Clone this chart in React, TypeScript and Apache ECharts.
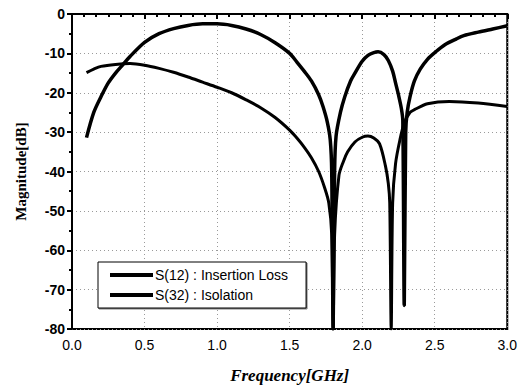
import React, { useEffect, useRef } from "react";
import * as echarts from "echarts";

const xTicks = [0, 0.5, 1.0, 1.5, 2.0, 2.5, 3.0];

const s12Freq = [
  0.1, 0.15, 0.2, 0.25, 0.3, 0.35, 0.4, 0.5, 0.6, 0.7, 0.8, 0.9, 1.0, 1.1, 1.2, 1.3, 1.4,
  1.5, 1.55, 1.6, 1.65, 1.7, 1.73, 1.76, 1.78, 1.79, 1.8, 1.81, 1.82, 1.85, 1.88, 1.92,
  1.95, 2.0, 2.04, 2.08, 2.11, 2.15, 2.18, 2.21, 2.23, 2.25, 2.27, 2.28, 2.29, 2.3, 2.31,
  2.33, 2.36, 2.4, 2.45, 2.5, 2.57, 2.65, 2.7, 2.8, 2.9, 3.0,
];
const s12Db = [
  -31.4, -25, -21, -17.5, -15, -12.9, -10.8, -7.2, -5, -3.7, -2.9, -2.5, -2.5, -2.9, -3.8,
  -5.2, -7.3, -10, -12.2, -14.5, -17, -20.5, -23.5, -27.5, -32, -40, -80, -40, -31, -25,
  -21, -17, -15, -12, -10.5, -9.8, -9.6, -10.3, -11.8, -14.5, -17.5, -20.5, -24, -27, -74,
  -30, -25, -21, -17, -14, -11.5, -9.8, -7.8, -6.3, -5.5, -4.6, -3.8, -3.0,
];

const s32Freq = [
  0.1, 0.15, 0.2, 0.3, 0.4, 0.5, 0.6, 0.7, 0.8, 0.9, 1.0, 1.1, 1.2, 1.3, 1.4, 1.5, 1.55,
  1.6, 1.65, 1.7, 1.74, 1.77, 1.79, 1.8, 1.81, 1.84, 1.87, 1.9, 1.95, 2.0, 2.04, 2.08,
  2.12, 2.16, 2.18, 2.19, 2.2, 2.21, 2.23, 2.26, 2.29, 2.33, 2.36, 2.45, 2.6, 2.8, 3.0,
];
const s32Db = [
  -14.9, -14, -13.3, -12.8, -12.6, -13, -13.8, -14.8, -16, -17.3, -18.6, -20, -21.8, -23.8,
  -26.3, -29.5, -31.5, -33.8, -36.5, -40, -44, -48, -56, -80, -56, -41, -37.5, -35, -32.5,
  -31.3, -31, -31.5, -33, -38.5, -43, -48, -80, -48, -38, -32, -27.7, -25, -24.3, -22.8,
  -22.2, -22.6, -23.5,
];

const seriesNames = ["S(12) : Insertion Loss", "S(32) : Isolation"];

const zip = (xs: number[], ys: number[]) => xs.map((x, i) => [x, ys[i]]);

export default function App() {
  const ref = useRef<HTMLDivElement>(null);
  useEffect(() => {
    if (!ref.current) return;
    const chart = echarts.init(ref.current, undefined, { renderer: "svg" });
    chart.setOption({
      animation: false,
      backgroundColor: "#fff",
      grid: {
        left: 72,
        right: 10,
        top: 14,
        bottom: 59,
        show: true,
        borderColor: "#000",
        borderWidth: 2,
        backgroundColor: "transparent",
      },
      legend: {
        left: 98,
        top: 262,
        orient: "vertical",
        data: seriesNames,
        icon: "rect",
        itemWidth: 43,
        itemHeight: 4,
        itemGap: 6,
        padding: [6, 18, 6, 12],
        borderColor: "#000",
        borderWidth: 1,
        backgroundColor: "#fff",
        shadowColor: "rgba(0,0,0,0.5)",
        shadowOffsetX: 1,
        shadowOffsetY: 1,
        textStyle: {
          fontFamily: "'Liberation Sans', Arial, sans-serif",
          fontSize: 14,
          color: "#000",
          padding: [0, 0, 0, -3],
        },
      },
      xAxis: {
        type: "value",
        min: 0,
        max: 3,
        interval: 0.5,
        name: "Frequency[GHz]",
        nameLocation: "middle",
        nameGap: 38,
        nameTextStyle: {
          fontFamily: "'Liberation Serif', 'Times New Roman', serif",
          fontWeight: "bold",
          fontStyle: "italic",
          fontSize: 17,
          color: "#000",
        },
        axisLine: { show: true, lineStyle: { color: "#000", width: 2 } },
        axisTick: { show: true, inside: false, length: 5, lineStyle: { color: "#000", width: 2 } },
        minorTick: { show: true, splitNumber: 6, length: 3, lineStyle: { color: "#000", width: 2 } },
        axisLabel: {
          margin: 9,
          fontFamily: "'Liberation Sans', Arial, sans-serif",
          fontSize: 14,
          color: "#000",
          formatter: (v: number) => v.toFixed(1),
          customValues: xTicks,
        },
        splitLine: { show: true, lineStyle: { color: "#9a9a9a", type: [1, 3], width: 1 } },
      },
      yAxis: {
        type: "value",
        min: -80,
        max: 0,
        interval: 10,
        name: "Magnitude[dB]",
        nameLocation: "middle",
        nameGap: 44,
        nameTextStyle: {
          fontFamily: "'Liberation Serif', 'Times New Roman', serif",
          fontWeight: "bold",
          fontSize: 15,
          color: "#000",
        },
        axisLine: { show: true, lineStyle: { color: "#000", width: 2 } },
        axisTick: { show: true, inside: false, length: 5, lineStyle: { color: "#000", width: 2 } },
        minorTick: { show: true, splitNumber: 2, length: 3, lineStyle: { color: "#000", width: 2 } },
        axisLabel: {
          margin: 7,
          fontFamily: "'Liberation Sans', Arial, sans-serif",
          fontSize: 14,
          fontWeight: "bold",
          color: "#000",
        },
        splitLine: { show: true, lineStyle: { color: "#9a9a9a", type: [1, 3], width: 1 } },
      },
      series: [
        {
          name: seriesNames[0],
          type: "line",
          data: zip(s12Freq, s12Db),
          showSymbol: false,
          smooth: 0.3,
          lineStyle: { color: "#000", width: 3.5 },
          itemStyle: { color: "#000" },
        },
        {
          name: seriesNames[1],
          type: "line",
          data: zip(s32Freq, s32Db),
          showSymbol: false,
          smooth: 0.3,
          lineStyle: { color: "#000", width: 3 },
          itemStyle: { color: "#000" },
        },
      ],
    });
    return () => chart.dispose();
  }, []);
  return <div ref={ref} style={{ width: 520, height: 389, position: "absolute", left: 0, top: 0 }} />;
}
